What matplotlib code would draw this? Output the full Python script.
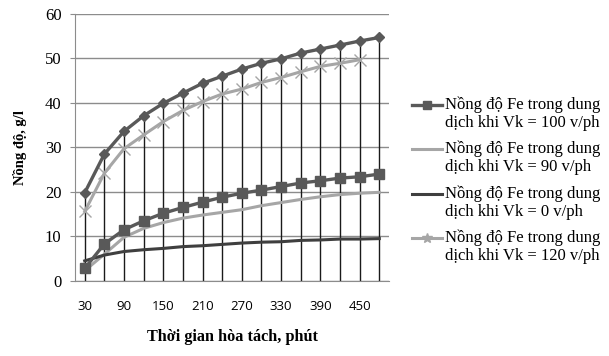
import matplotlib.pyplot as plt
from matplotlib.lines import Line2D

# time (minutes)
t = [30, 60, 90, 120, 150, 180, 210, 240, 270, 300, 330, 360, 390, 420, 450, 480]
xtick_vals = [30, 90, 150, 210, 270, 330, 390, 450]

# concentration, g/l
top_series = [19.8, 28.5, 33.6, 37.1, 39.9, 42.2, 44.4, 46.0, 47.6, 48.9, 49.9, 51.2, 52.1, 53.0, 53.9, 54.7]
vk100 = [2.8, 8.3, 11.5, 13.5, 15.2, 16.5, 17.7, 18.8, 19.7, 20.4, 21.2, 22.0, 22.5, 23.1, 23.4, 24.0]
vk90 = [2.3, 6.0, 9.8, 11.8, 13.1, 14.1, 14.8, 15.4, 16.0, 16.9, 17.6, 18.3, 18.9, 19.4, 19.7, 19.9]
vk0 = [4.5, 5.8, 6.6, 7.0, 7.3, 7.7, 7.9, 8.2, 8.5, 8.7, 8.8, 9.1, 9.2, 9.4, 9.4, 9.5]
t120 = t[:15]
vk120 = [15.6, 24.2, 29.7, 32.8, 35.8, 38.3, 40.3, 42.0, 43.1, 44.6, 45.7, 47.0, 48.2, 48.9, 49.7]

labels = [
    'Nồng độ Fe trong dung\ndịch khi Vk = 100 v/ph',
    'Nồng độ Fe trong dung\ndịch khi Vk = 90 v/ph',
    'Nồng độ Fe trong dung\ndịch khi Vk = 0 v/ph',
    'Nồng độ Fe trong dung\ndịch khi Vk = 120 v/ph',
]

serif = 'Liberation Serif'
W, H = 609, 356

fig = plt.figure(figsize=(6.09, 3.56), dpi=100)
ax = fig.add_axes([0.123, 0.211, 0.516, 0.75])

# drop lines from the top series down to the axis
ax.vlines(t, 0, top_series, color='#1a1a1a', lw=1.0, zorder=2)

ax.plot(t, top_series, color='#595959', lw=2.4, marker='D', ms=5.5, zorder=4)
h1, = ax.plot(t, vk100, color='#595959', lw=2.4, marker='s', ms=7, zorder=4)
h2, = ax.plot(t, vk90, color='#a6a6a6', lw=2.2, zorder=3)
h3, = ax.plot(t, vk0, color='#3f3f3f', lw=2.2, zorder=3)
h4, = ax.plot(t120, vk120, color='#a6a6a6', lw=2.2, marker='x', ms=8, mew=1.0, zorder=3)

ax.set_xlim(15, 495)
ax.set_ylim(0, 60)
ax.set_yticks(range(0, 61, 10))
ax.set_xticks(xtick_vals)
ax.grid(axis='y', color='#8c8c8c', lw=1.0)
ax.set_axisbelow(True)

for s in ['top', 'right']:
    ax.spines[s].set_visible(False)
ax.spines['left'].set_color('#8c8c8c')
ax.spines['bottom'].set_color('#8c8c8c')

ax.tick_params(axis='y', length=3.6, color='#8c8c8c', pad=6, labelsize=12)
ax.tick_params(axis='x', length=0, pad=14, labelsize=9.5)
for lab in ax.get_yticklabels():
    lab.set_family(serif)
for lab in ax.get_xticklabels():
    lab.set_family('Open Sans')

ax.set_ylabel('Nồng độ, g/l', family=serif, fontweight='bold', fontsize=10.5, labelpad=13)
ax.set_xlabel('Thời gian hòa tách, phút', family=serif, fontweight='bold', fontsize=11.7, labelpad=11)

# legend, drawn by hand so the key sits on the first text line (Excel style)
handles = [h1, h2, h3, h4]
for i, (h, lab) in enumerate(zip(handles, labels)):
    y1 = 104.5 + i * 44.5
    fig.add_artist(Line2D([412 / W, 442 / W], [1 - y1 / H] * 2,
                          color=h.get_color(), lw=h.get_linewidth()))
    if h.get_marker() not in (None, 'None', ''):
        mk = '*' if h is h4 else h.get_marker()
        ms = 7 if h is h4 else 6
        fig.add_artist(Line2D([427 / W], [1 - y1 / H], color=h.get_color(),
                              marker=mk, ms=ms, mew=h.get_markeredgewidth(),
                              linestyle='none'))
    fig.text(445 / W, 1 - (y1 + 9) / H, lab, family=serif, fontsize=12,
             va='center', ha='left', linespacing=1.2)

fig.savefig('out.png', dpi=100)
